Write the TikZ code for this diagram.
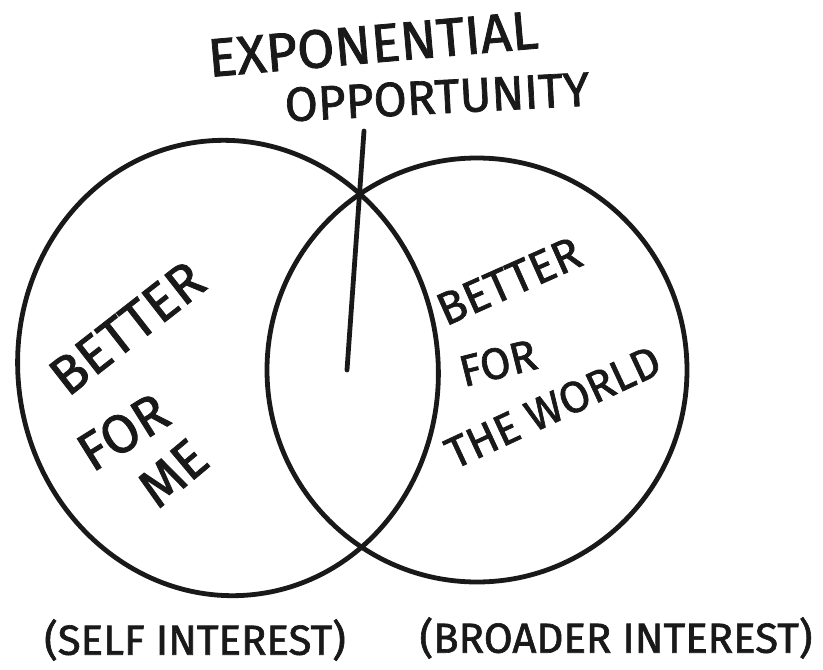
\documentclass[tikz,border=0pt]{standalone}
\usepackage{fontspec}
\setmainfont{Fira Sans}[FakeBold=1.5]
\usetikzlibrary{positioning}

\begin{document}
\begin{tikzpicture}[x=1pt,y=-1pt,
    ink/.style={line width=4.8pt, draw=black!90, line cap=round},
    hand/.style={inner sep=0pt, text=black!90}]
      \useasboundingbox (0,0) rectangle (823,670);
      % the two sets
      \draw[ink, rotate around={8:(228,368)}] (228,368) ellipse [x radius=210pt, y radius=228pt];
      \draw[ink] (477,370) ellipse [x radius=210pt, y radius=212pt];
      % title and pointer
      \node[hand, rotate=5, font=\fontsize{54}{54}\selectfont] (expo) at (373,44) {EXPONENTIAL};
      \node[hand, rotate=3, font=\fontsize{48}{48}\selectfont] (opp) at (437,97) {OPPORTUNITY};
      \coordinate (stem) at (364,131);
      \coordinate (tip) at (347,370);
      \draw[ink] (stem) -- (tip);
      % left set
      \node[hand, rotate=38, font=\fontsize{54}{54}\selectfont] (bme) at (127,328) {BETTER};
      \node[hand, rotate=32, font=\fontsize{54}{54}\selectfont] (fme) at (123,432) {FOR};
      \node[hand, rotate=40, font=\fontsize{54}{54}\selectfont] (me) at (173,473) {ME};
      % right set
      \node[hand, rotate=24, font=\fontsize{46}{46}\selectfont] (bwo) at (509,281) {BETTER};
      \node[hand, rotate=14, font=\fontsize{44}{44}\selectfont] (fwo) at (498,363) {FOR};
      \node[hand, rotate=25, font=\fontsize{44}{44}\selectfont] (world) at (553,407) {THE WORLD};
      % captions
      \node[hand, font=\fontsize{42}{42}\selectfont] (self) at (195,640) {(SELF INTEREST)};
      \node[hand, font=\fontsize{42}{42}\selectfont] (broad) at (616,638) {(BROADER INTEREST)};
\end{tikzpicture}
\end{document}
